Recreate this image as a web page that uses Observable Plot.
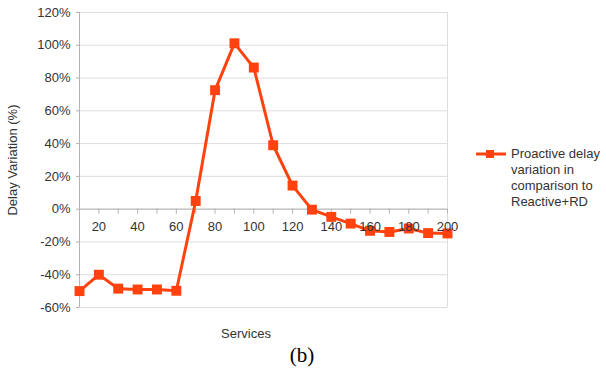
<!DOCTYPE html>
<html>
<head>
<meta charset="utf-8">
<script src="https://cdn.jsdelivr.net/npm/d3@7"></script>
<script src="https://cdn.jsdelivr.net/npm/@observablehq/plot@0.6"></script>
<style>
  html, body { margin: 0; padding: 0; background: #fff; }
  #wrap { position: relative; width: 606px; height: 371px; font-family: "Liberation Sans", Arial, sans-serif; color: #333; }
  .abs { position: absolute; white-space: nowrap; }
</style>
</head>
<body>
<div id="wrap"></div>
<script>
const services = [10,20,30,40,50,60,70,80,90,100,110,120,130,140,150,160,170,180,190,200];
const delayVariation = [-50,-40,-48.5,-49,-49,-49.8,5,72.6,101.2,86.4,39,14.4,-0.3,-4.7,-8.8,-13.2,-13.9,-11.8,-14.6,-14.8];
const xTickLabels = [20,40,60,80,100,120,140,160,180,200];
const xTicks = [10,20,30,40,50,60,70,80,90,100,110,120,130,140,150,160,170,180,190,200];
const yTicks = [-60,-40,-20,0,20,40,60,80,100,120];
const seriesName = ["Proactive delay", "variation in", "comparison to", "Reactive+RD"];

const data = services.map((s, i) => ({services: s, value: delayVariation[i]}));
const color = "#ff420e";

const chart = Plot.plot({
  width: 606,
  height: 371,
  marginLeft: 79,
  marginRight: 159,
  marginTop: 12,
  marginBottom: 64,
  style: {fontFamily: "'Liberation Sans', Arial, sans-serif", fontSize: "13px", color: "#333", background: "#fff"},
  x: {domain: [10, 200], axis: null},
  y: {domain: [-60, 120], axis: null},
  marks: [
    Plot.gridY(yTicks, {stroke: "#dddddd", strokeOpacity: 1}),
    Plot.ruleX([200], {stroke: "#dddddd"}),
    Plot.ruleX([10], {stroke: "#b3b3b3"}),
    Plot.ruleY([0], {stroke: "#b3b3b3"}),
    Plot.axisY(yTicks, {tickFormat: d => d + "%", tickSize: 3, tickPadding: 6, stroke: "#b3b3b3", label: null, fontSize: 13, fill: "#333"}),
    Plot.ruleX(xTicks, {x: d => d, y1: 0, y2: 0, insetBottom: -5, stroke: "#b3b3b3"}),
    Plot.line(data, {x: "services", y: "value", stroke: color, strokeWidth: 3}),
    Plot.dot(data, {x: "services", y: "value", symbol: "square", r: 5.6, fill: color, stroke: "none"}),
    Plot.text(xTickLabels, {x: d => d, y: 0, dy: 18, text: d => String(d), fontSize: 13, fill: "#333"})
  ]
});

const wrap = document.getElementById("wrap");
wrap.appendChild(chart);

// Y axis label
const yl = document.createElement("div");
yl.className = "abs";
yl.textContent = "Delay Variation (%)";
yl.style.cssText += "left:12px; top:160px; font-size:13px; transform: translate(-50%,-50%) rotate(-90deg);";
wrap.appendChild(yl);

// X axis label
const xl = document.createElement("div");
xl.className = "abs";
xl.textContent = "Services";
xl.style.cssText += "left:246px; top:333px; font-size:13px; transform: translate(-50%,-50%);";
wrap.appendChild(xl);

// Caption (b)
const cap = document.createElement("div");
cap.className = "abs";
cap.textContent = "(b)";
cap.style.cssText += "left:302px; top:355px; font-size:21px; color:#000; font-family:'Liberation Serif','Times New Roman',serif; transform: translate(-50%,-50%);";
wrap.appendChild(cap);

// Legend
const leg = document.createElement("div");
leg.className = "abs";
leg.style.cssText += "left:475px; top:146px;";
leg.innerHTML = `<svg width="32" height="16" style="position:absolute;left:0;top:0">
  <line x1="1" x2="31" y1="8" y2="8" stroke="${color}" stroke-width="3"></line>
  <rect x="11" y="4" width="8" height="8" fill="${color}"></rect></svg>`;
const lt = document.createElement("div");
lt.style.cssText = "position:absolute;left:36px;top:0;font-size:13px;line-height:16px;color:#333;";
lt.innerHTML = seriesName.join("<br>");
leg.appendChild(lt);
wrap.appendChild(leg);
</script>
</body>
</html>
